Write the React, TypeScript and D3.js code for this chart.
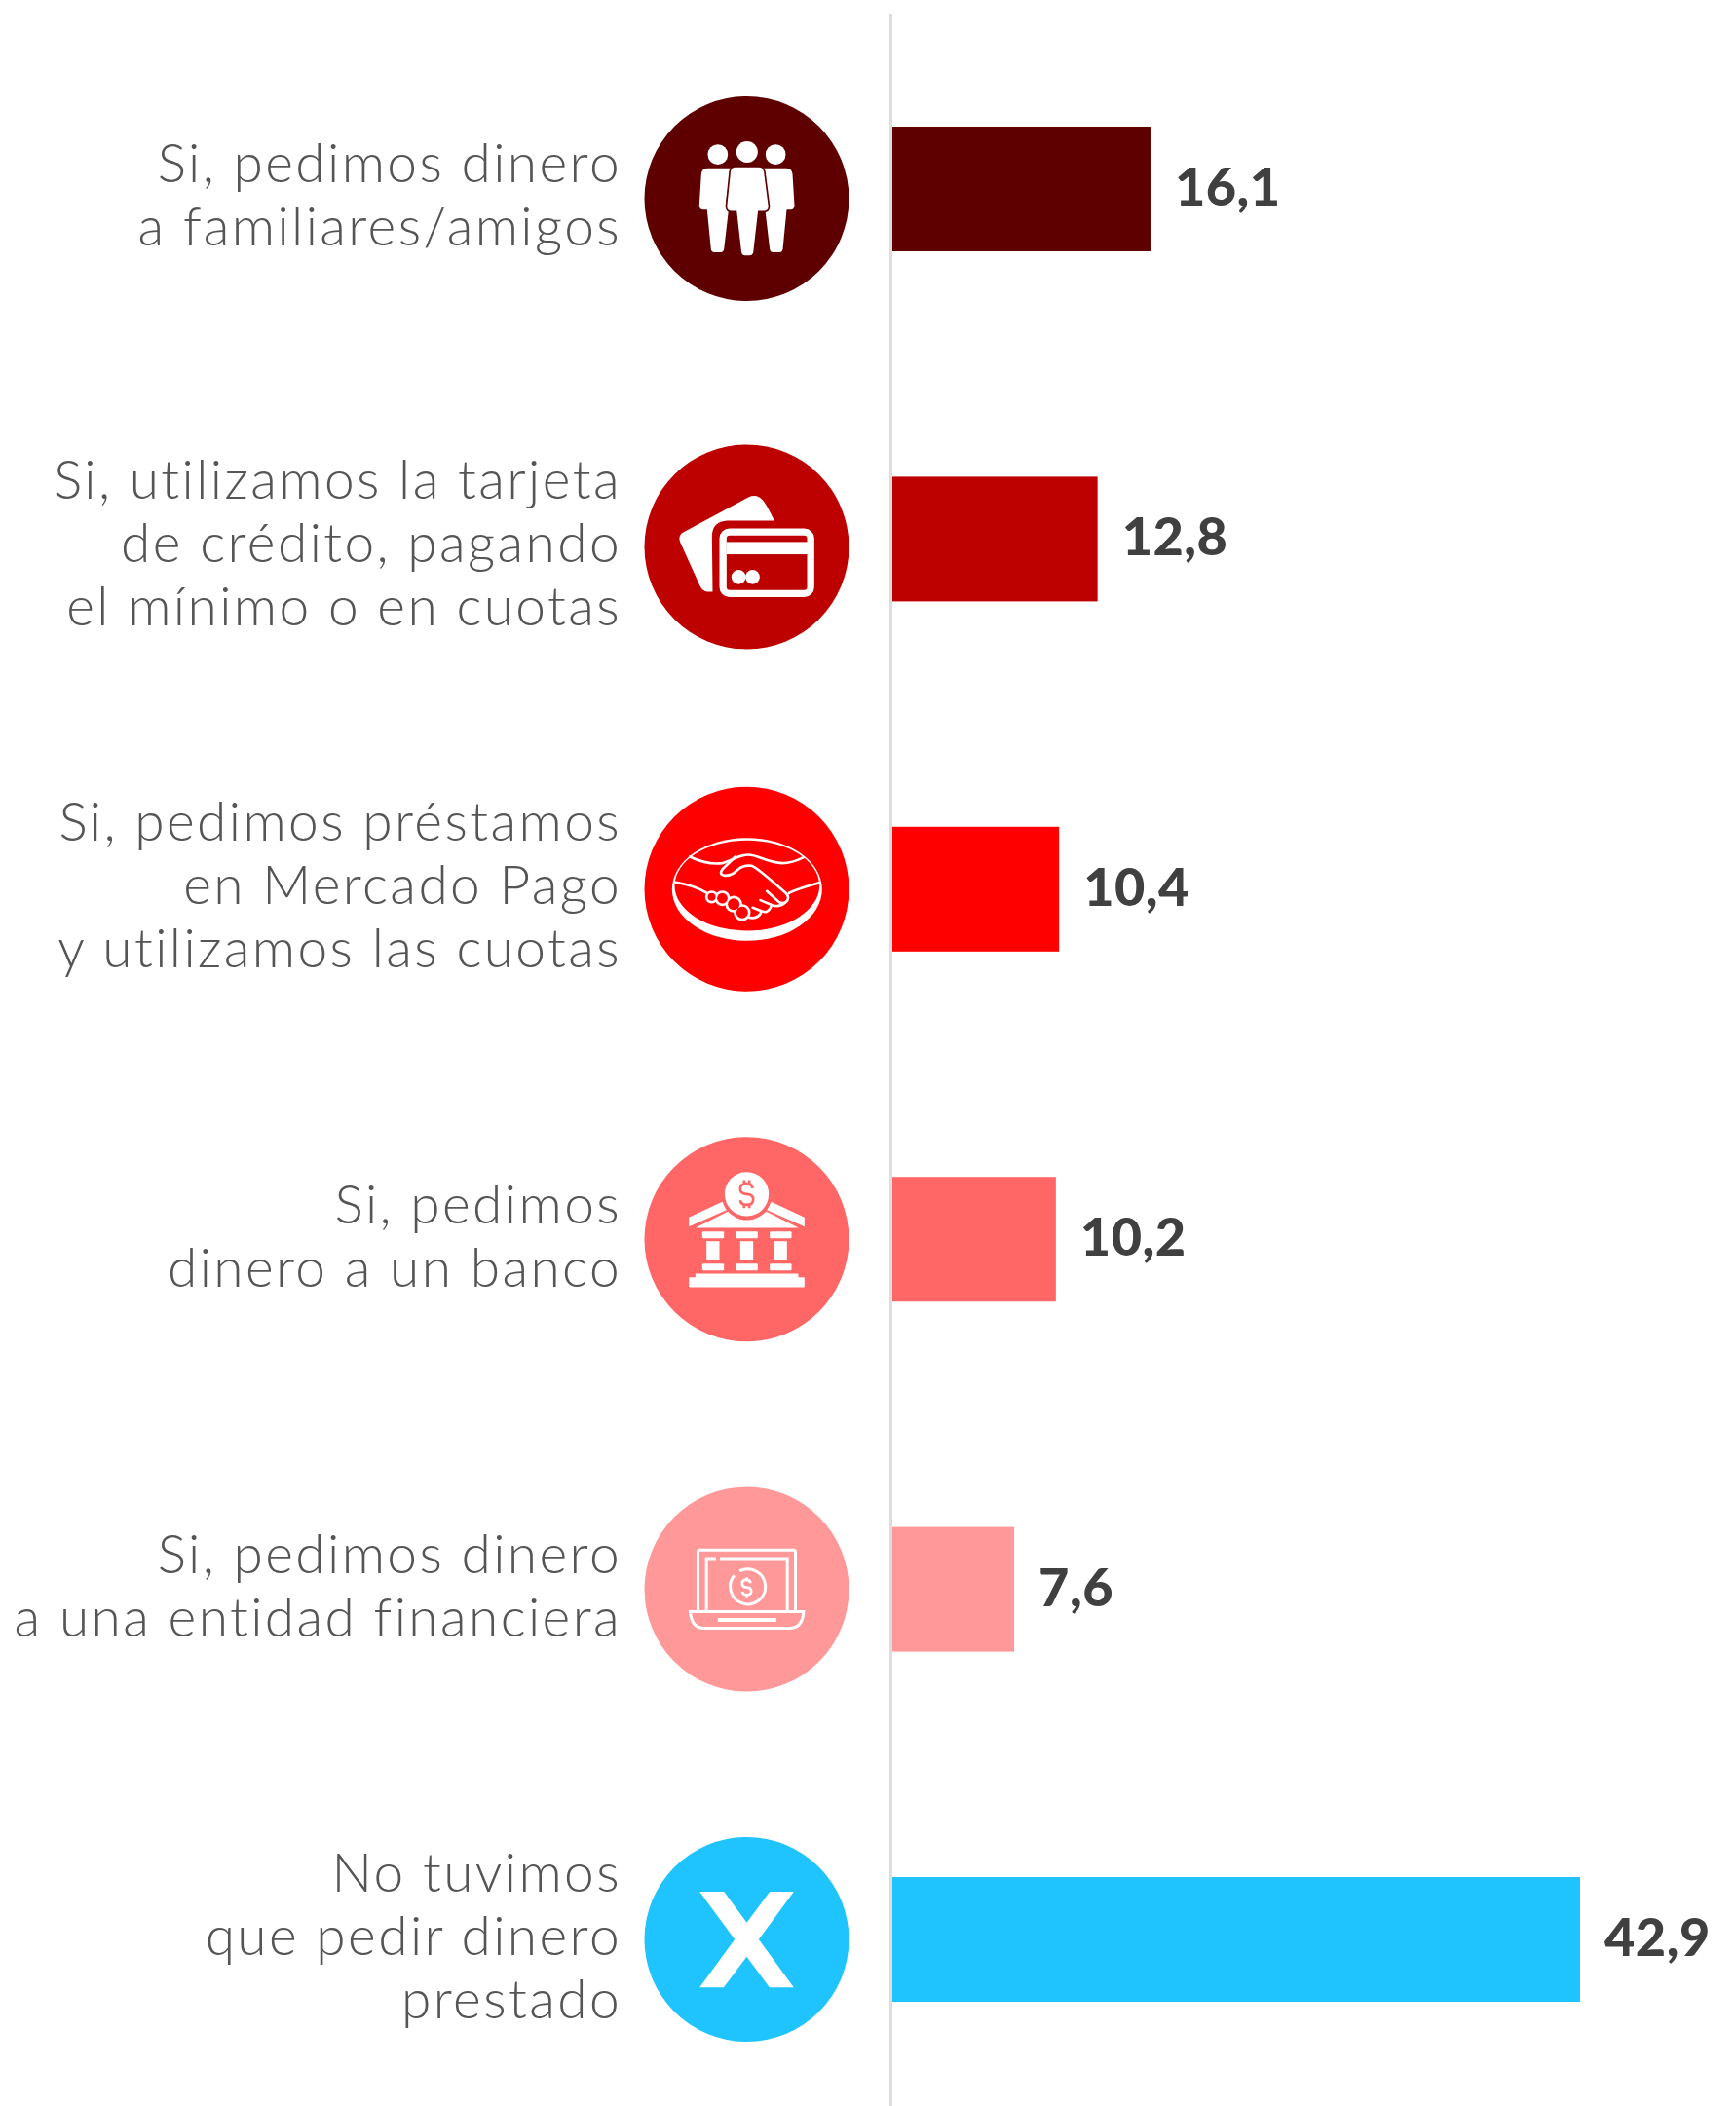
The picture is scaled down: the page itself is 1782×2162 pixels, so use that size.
import * as d3 from 'd3';

const WIDTH = 1782;
const HEIGHT = 2162;

const labels = [
  ['Si, pedimos dinero', 'a familiares/amigos'],
  ['Si, utilizamos la tarjeta', 'de crédito, pagando', 'el mínimo o en cuotas'],
  ['Si, pedimos préstamos', 'en Mercado Pago', 'y utilizamos las cuotas'],
  ['Si, pedimos', 'dinero a un banco'],
  ['Si, pedimos dinero', 'a una entidad financiera'],
  ['No tuvimos', 'que pedir dinero', 'prestado'],
];
const values = [16.1, 12.8, 10.4, 10.2, 7.6, 42.9];
const valueLabels = ['16,1', '12,8', '10,4', '10,2', '7,6', '42,9'];
const colors = ['#5F0000', '#BD0000', '#FF0000', '#FF6666', '#FF9999', '#1FC4FF'];

// the circles and text blocks don't sit exactly on the bar centres in the original
const iconOffsets = [10, 8, 0, 0, 0, 0];
const labelOffsets = [25, 24, 15, 16, 16, 16];

const TEXT_FONT = 'Lato, sans-serif';
const LINE_H = 65;
const TEXT_X = 638;
const ICON_X = 766.5;
const ICON_R = 105;
const AXIS_X = 914.5;
const BAR_H = 128;

const x = d3.scaleLinear().domain([0, 42.9]).range([916, 1622]);
const y = d3.scalePoint<number>().domain(d3.range(values.length)).range([194, 1991]);

// icons are drawn in a 3x local space, roughly centred on (380, 338)
function People({ bg }: { bg: string }) {
  const side = 'M258 278 H330 L316 385 Q316 405 324 408 L310 528 Q308 537 300 537 H280 Q272 537 270 528 L258 406 H246 Q234 404 234 392 L240 296 Q242 278 258 278 Z';
  return (
    <g fill="#fff">
      <circle cx={291} cy={236} r={31} />
      <circle cx={469} cy={236} r={31} />
      <circle cx={381} cy={228} r={33} />
      <path d={side} />
      <path d={side} transform="translate(761,0) scale(-1,1)" />
      <path
        d="M345 273 H417 Q432 273 435 288 L449 395 Q449 411 433 412 H417 L403 535 Q401 549 389 549 H375 Q363 549 361 535 L347 412 H333 Q317 411 317 395 L328 288 Q331 273 345 273 Z"
        stroke={bg}
        strokeWidth={5}
      />
    </g>
  );
}

function Cards({ bg }: { bg: string }) {
  return (
    <g>
      <path
        d="M183 321 L385 212 Q412 200 430 222 Q442 236 465 284 H320 Q275 286 273 330 L275 503 H258 Q243 500 236 485 L175 350 Q168 332 183 321 Z"
        fill="#fff"
      />
      <rect x={307} y={319} width={270} height={190} rx={20} fill={bg} stroke="#fff" strokeWidth={22} />
      <rect x={318} y={350} width={250} height={38} fill="#fff" />
      <circle cx={355} cy={458} r={22} fill="#fff" />
      <circle cx={398} cy={458} r={22} fill="#fff" />
    </g>
  );
}

function Handshake({ bg }: { bg: string }) {
  const bumps = [[272, 362, 16], [305, 366, 20], [340, 384, 22], [366, 410, 22]];
  return (
    <g>
      <ellipse cx={381} cy={338.5} rx={231} ry={158.5} fill="#fff" />
      <ellipse cx={381} cy={327} rx={223} ry={139} fill={bg} />
      <g fill="none" stroke="#fff" strokeWidth={8} strokeLinecap="round">
        <path d="M205 238 C240 255 275 262 305 258 C335 250 355 232 385 232 C415 232 440 255 490 258 C515 258 535 250 555 240" />
        <path d="M345 238 L306 276 Q292 295 315 296 Q335 296 350 280 Q370 262 395 266 Q410 270 500 350 Q515 365 500 378 Q490 384 480 378 L442 344" />
        <path d="M498 380 Q480 395 460 388 L422 372" />
        <path d="M455 392 Q445 415 425 405 L398 395" />
        <path d="M425 408 Q415 432 385 425" />
        <path d="M158 316 C195 322 225 330 258 350" />
        <path d="M510 350 C540 335 570 328 605 318" />
      </g>
      {bumps.map(([cx, cy, r]) => (
        <circle key={cx} cx={cx} cy={cy} r={r + 4} fill="#fff" />
      ))}
      {bumps.map(([cx, cy, r]) => (
        <circle key={cx} cx={cx} cy={cy} r={r - 4} fill={bg} />
      ))}
    </g>
  );
}

function Bank({ bg }: { bg: string }) {
  const cols = [243, 347, 451];
  return (
    <g fill="#fff">
      <circle cx={380} cy={198} r={68} />
      <g fill="none" stroke={bg} strokeWidth={8}>
        <path d="M398 180 Q396 166 380 166 Q360 166 360 182 Q360 197 380 198 Q400 199 400 215 Q400 231 380 231 Q362 231 360 217" />
        <path d="M372 155 V167 M388 155 V167 M372 231 V241 M388 231 V241" />
      </g>
      <path d="M202 270 L305 222 Q310 236 318 247 L202 298 Z" />
      <path d="M558 270 L455 222 Q450 236 442 247 L558 298 Z" />
      <path d="M222 302 L322 252 Q350 280 380 278 Q410 280 440 252 L540 302 Z" />
      {cols.map(c => (
        <g key={c}>
          <rect x={c} y={313} width={67} height={21} rx={3} />
          <rect x={c + 13} y={343} width={40} height={59} />
          <rect x={c} y={412} width={67} height={21} rx={3} />
        </g>
      ))}
      <rect x={222} y={443} width={317} height={15} />
      <rect x={202} y={454} width={356} height={31} rx={3} />
    </g>
  );
}

function Laptop() {
  return (
    <g fill="none" stroke="#fff" strokeWidth={9}>
      <path d="M230 402 V220 Q230 214 236 214 H524 Q530 214 530 220 V402" />
      <path d="M256 402 V240 H285 M298 240 H505 V402" />
      <path d="M206 404 H555 Q552 455 510 455 H250 Q210 455 206 404 Z" />
      <path d="M291 429 H471" strokeWidth={12} />
      <path d="M342 292 A54 54 0 1 0 358 279" />
      <path d="M392 316 Q390 306 379 306 Q366 306 366 317 Q366 328 380 329 Q394 330 394 341 Q394 352 380 352 Q368 352 366 342" strokeWidth={8} />
      <path d="M380 298 V306 M380 352 V360" strokeWidth={8} />
    </g>
  );
}

function Cross() {
  return (
    <path
      d="M235 188 H310 L380 283 L451 188 H525 L417 335 L525 483 H450 L380 388 L309 483 H235 L343 335 Z"
      fill="#fff"
    />
  );
}

const iconCenters = [372, 365, 338, 337, 335, 335];

function Icon({ index, bg }: { index: number; bg: string }) {
  const shape = [
    <People bg={bg} />,
    <Cards bg={bg} />,
    <Handshake bg={bg} />,
    <Bank bg={bg} />,
    <Laptop />,
    <Cross />,
  ][index];
  return <g transform={`scale(${1 / 3}) translate(-380,${-iconCenters[index]})`}>{shape}</g>;
}

export default function App() {
  return (
    <svg
      width={WIDTH}
      height={HEIGHT}
      style={{ position: 'absolute', left: 0, top: 0, background: '#fff' }}
    >
      <line x1={AXIS_X} x2={AXIS_X} y1={14} y2={HEIGHT} stroke="#DDDDDD" strokeWidth={3} />
      {values.map((v, i) => {
        const cy = y(i)!;
        const iconY = cy + iconOffsets[i];
        const firstLine = cy + labelOffsets[i] - ((labels[i].length - 1) * LINE_H) / 2;
        return (
          <g key={i}>
            <rect x={x(0)} y={cy - BAR_H / 2} width={x(v) - x(0)} height={BAR_H} fill={colors[i]} />
            <text
              x={x(v) + 25}
              y={cy + 17}
              fontFamily={TEXT_FONT}
              fontWeight={900}
              fontSize={54}
              letterSpacing={0.5}
              fill="#404040"
            >
              {valueLabels[i]}
            </text>
            <g transform={`translate(${ICON_X},${iconY})`}>
              <circle r={ICON_R} fill={colors[i]} />
              <Icon index={i} bg={colors[i]} />
            </g>
            <text
              textAnchor="end"
              fontFamily={TEXT_FONT}
              fontWeight={300}
              fontSize={55}
              letterSpacing={2.4}
              fill="#555555"
            >
              {labels[i].map((line, j) => (
                <tspan key={j} x={TEXT_X} y={firstLine + j * LINE_H}>
                  {line}
                </tspan>
              ))}
            </text>
          </g>
        );
      })}
    </svg>
  );
}
